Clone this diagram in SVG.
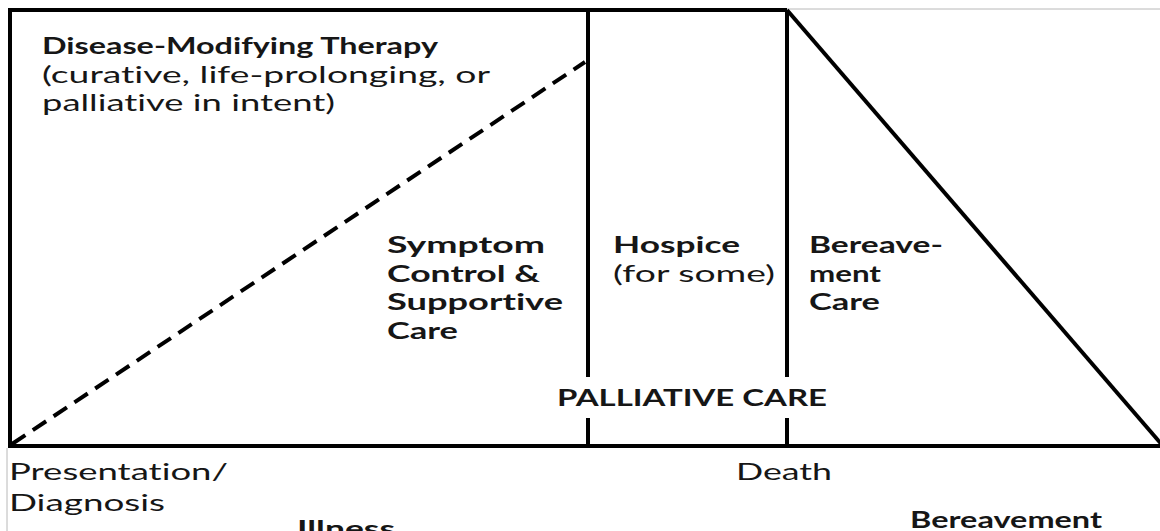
<svg xmlns="http://www.w3.org/2000/svg" width="1160" height="531" viewBox="0 0 1160 531">
  <style>
    text { font-family: Lato, "Open Sans", "Liberation Sans", sans-serif; font-size: 23.5px; fill: #161616; font-variant-ligatures: none; font-feature-settings: "liga" 0, "dlig" 0; }
    .b { font-weight: 700; }
    .sb { font-weight: 700; }
    .r { font-weight: 400; }
    .ln { stroke: #000; stroke-width: 4; fill: none; stroke-linecap: butt; }
    .thin { stroke: #b8b8b8; stroke-width: 1; fill: none; }
    .dash { stroke: #000; stroke-width: 4; fill: none; stroke-dasharray: 16 9; }
  </style>
  <rect width="1160" height="531" fill="#fff"/>
  <g id="connectors">
    <line class="thin" x1="787" y1="9" x2="1160" y2="9"/>
    <line class="thin" x1="7" y1="448" x2="7" y2="531"/>
    <path class="ln" d="M10,446 V10 H787" stroke-width="5"/>
    <line class="ln" x1="588" y1="10" x2="588" y2="377"/>
    <line class="ln" x1="588" y1="418" x2="588" y2="446"/>
    <line class="ln" x1="787" y1="10" x2="787" y2="377"/>
    <line class="ln" x1="787" y1="418" x2="787" y2="446"/>
    <line class="ln" x1="787" y1="10" x2="1163" y2="446"/>
    <line class="ln" x1="8" y1="446" x2="1160" y2="446"/>
    <line class="dash" x1="12" y1="444" x2="585" y2="62"/>
  </g>
  <g id="disease-modifying-therapy">
    <text class="b" x="42" y="54" textLength="396" lengthAdjust="spacingAndGlyphs">Disease-Modifying Therapy</text>
    <text class="r" x="42" y="83" textLength="448" lengthAdjust="spacingAndGlyphs">(curative, life-prolonging, or</text>
    <text class="r" x="42" y="111" textLength="293" lengthAdjust="spacingAndGlyphs">palliative in intent)</text>
  </g>
  <g id="symptom-control">
    <text class="sb" x="387" y="253" textLength="158" lengthAdjust="spacingAndGlyphs">Symptom</text>
    <text class="sb" x="387" y="282" textLength="153" lengthAdjust="spacingAndGlyphs">Control &amp;</text>
    <text class="sb" x="387" y="310" textLength="176" lengthAdjust="spacingAndGlyphs">Supportive</text>
    <text class="sb" x="387" y="339" textLength="71" lengthAdjust="spacingAndGlyphs">Care</text>
  </g>
  <g id="hospice">
    <text class="sb" x="613" y="253" textLength="127" lengthAdjust="spacingAndGlyphs">Hospice</text>
    <text class="r" x="613" y="282" textLength="162" lengthAdjust="spacingAndGlyphs">(for some)</text>
  </g>
  <g id="bereavement-care">
    <text class="sb" x="809" y="253" textLength="134" lengthAdjust="spacingAndGlyphs">Bereave-</text>
    <text class="sb" x="809" y="282" textLength="72" lengthAdjust="spacingAndGlyphs">ment</text>
    <text class="sb" x="809" y="310" textLength="71" lengthAdjust="spacingAndGlyphs">Care</text>
  </g>
  <g id="palliative-care">
    <text class="sb" x="557" y="406" textLength="270" lengthAdjust="spacingAndGlyphs">PALLIATIVE CARE</text>
  </g>
  <g id="presentation-diagnosis">
    <text class="r" x="9" y="480" textLength="219" lengthAdjust="spacingAndGlyphs">Presentation/</text>
    <text class="r" x="9" y="511" textLength="156" lengthAdjust="spacingAndGlyphs">Diagnosis</text>
  </g>
  <g id="death">
    <text class="r" x="736" y="480" textLength="96" lengthAdjust="spacingAndGlyphs">Death</text>
  </g>
  <g id="illness">
    <text class="sb" x="297" y="537" textLength="98" lengthAdjust="spacingAndGlyphs">Illness</text>
  </g>
  <g id="bereavement">
    <text class="b" x="910" y="528" textLength="192" lengthAdjust="spacingAndGlyphs">Bereavement</text>
  </g>
</svg>
